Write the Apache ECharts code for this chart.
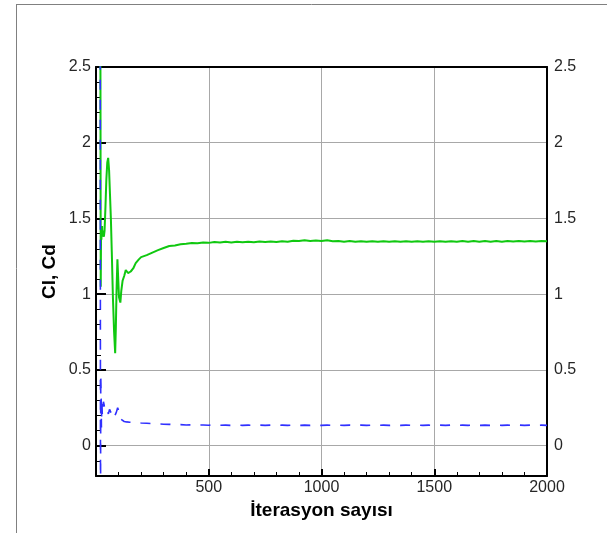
<!DOCTYPE html>
<html>
<head>
<meta charset="utf-8">
<title>Cl, Cd</title>
<script src="https://cdn.jsdelivr.net/npm/echarts@6/dist/echarts.min.js"></script>
<style>
  html, body { margin: 0; padding: 0; background: #fff; }
  #chart { width: 607px; height: 533px; }
</style>
</head>
<body>
<div id="chart"></div>
<script>
// Lift coefficient history (iteration, Cl)
const clIter = [
  19, 20, 21, 22, 23, 24, 25, 26, 27, 28, 30, 32, 35, 38, 42, 46, 50, 54, 58, 62, 66, 70, 75, 80, 85,
  88, 91, 95, 98, 102, 108, 112, 118, 125, 132, 142, 154, 165, 176, 190, 200,
  225, 250, 275, 300, 325, 350, 375, 400, 425, 450, 475, 500, 525, 550, 575, 600, 625, 650, 675, 700,
  725, 750, 775, 800, 825, 850, 875, 900, 925, 950, 975, 1000, 1025, 1050, 1075, 1100, 1125, 1150,
  1175, 1200, 1225, 1250, 1275, 1300, 1325, 1350, 1375, 1400, 1425, 1450, 1475, 1500, 1525, 1550,
  1575, 1600, 1625, 1650, 1675, 1700, 1725, 1750, 1775, 1800, 1825, 1850, 1875, 1900, 1925, 1950,
  1975, 2000
];
const clValue = [
  3.20, 2.20, 1.05, 1.30, 1.45, 1.36, 1.44, 1.38, 1.45, 1.40, 1.42, 1.40, 1.38, 1.42, 1.58, 1.76, 1.87, 1.90, 1.82, 1.66, 1.50, 1.28, 0.98, 0.76, 0.61,
  0.78, 1.02, 1.23, 1.12, 0.98, 0.945, 1.02, 1.09, 1.12, 1.16, 1.14, 1.15, 1.17, 1.205, 1.23, 1.245,
  1.258, 1.275, 1.291, 1.305, 1.318, 1.322, 1.330, 1.333, 1.338, 1.336, 1.341, 1.339, 1.344, 1.341, 1.346, 1.342, 1.347, 1.343, 1.347, 1.343,
  1.348, 1.344, 1.348, 1.345, 1.350, 1.347, 1.353, 1.351, 1.356, 1.352, 1.355, 1.351, 1.356, 1.350, 1.352, 1.347, 1.351, 1.346,
  1.350, 1.346, 1.350, 1.346, 1.350, 1.346, 1.350, 1.346, 1.350, 1.346, 1.350, 1.346, 1.350, 1.346, 1.350, 1.346,
  1.350, 1.347, 1.351, 1.347, 1.351, 1.347, 1.351, 1.347, 1.351, 1.347, 1.352, 1.348, 1.352, 1.348, 1.352, 1.348,
  1.352, 1.349
];

// Drag coefficient history (iteration, Cd)
const cdIter = [
  18, 19, 20, 21, 22, 23, 24, 25, 26, 28, 30, 33, 36, 40, 45, 50, 55, 60, 66, 72, 78, 85, 90, 96, 102,
  106, 110, 117, 125, 135, 150, 165, 184, 200,
  225, 250, 275, 300, 325, 350, 375, 400, 425, 450, 475, 500, 525, 550, 575, 600, 625, 650, 675, 700,
  725, 750, 775, 800, 825, 850, 875, 900, 925, 950, 975, 1000, 1025, 1050, 1075, 1100, 1125, 1150,
  1175, 1200, 1225, 1250, 1275, 1300, 1325, 1350, 1375, 1400, 1425, 1450, 1475, 1500, 1525, 1550,
  1575, 1600, 1625, 1650, 1675, 1700, 1725, 1750, 1775, 1800, 1825, 1850, 1875, 1900, 1925, 1950,
  1975, 2000
];
const cdValue = [
  4.00, 2.00, -0.60, 0.46, 0.40, 0.30, 0.12, 0.22, 0.30, 0.20, 0.26, 0.29, 0.27, 0.22, 0.21, 0.23, 0.21, 0.24, 0.22, 0.20, 0.18, 0.19, 0.22, 0.25, 0.26,
  0.21, 0.175, 0.165, 0.160, 0.157, 0.155, 0.153, 0.152, 0.150,
  0.148, 0.146, 0.144, 0.142, 0.141, 0.139, 0.139, 0.137, 0.138, 0.136, 0.137, 0.135, 0.137, 0.135, 0.136, 0.134, 0.136, 0.134, 0.136, 0.134,
  0.136, 0.134, 0.136, 0.134, 0.136, 0.134, 0.136, 0.134, 0.136, 0.134, 0.136, 0.134, 0.136, 0.134, 0.136, 0.134, 0.136, 0.134,
  0.136, 0.134, 0.136, 0.134, 0.136, 0.134, 0.136, 0.134, 0.136, 0.134, 0.136, 0.134, 0.136, 0.134, 0.136, 0.134,
  0.136, 0.134, 0.136, 0.134, 0.136, 0.134, 0.136, 0.134, 0.136, 0.134, 0.136, 0.134, 0.136, 0.134, 0.136, 0.134,
  0.136, 0.134
];

const FONT = '"Liberation Sans", Arial, sans-serif';
const LABEL_COLOR = '#262626';
const plain = v => String(v);

const chart = echarts.init(document.getElementById('chart'), null, { renderer: 'canvas' });

chart.setOption({
  animation: false,
  backgroundColor: '#fff',
  textStyle: { fontFamily: FONT },
  graphic: [
    // outer frame (top and left edges)
    { type: 'line', shape: { x1: 16, y1: 4.5, x2: 607, y2: 4.5 }, style: { stroke: '#808080', lineWidth: 1 } },
    { type: 'line', shape: { x1: 16.5, y1: 4, x2: 16.5, y2: 533 }, style: { stroke: '#808080', lineWidth: 1 } }
  ],
  grid: { left: 96, right: 60, top: 67, bottom: 57, containLabel: false },
  xAxis: [
    {
      type: 'value', min: 0, max: 2000, interval: 500, position: 'bottom',
      axisLine: { onZero: false, lineStyle: { color: '#000', width: 2 } },
      axisTick: { inside: true, length: 7, lineStyle: { color: '#000', width: 2 } },
      minorTick: { show: true, splitNumber: 5, length: 4, lineStyle: { color: '#000', width: 1 } },
      axisLabel: { showMinLabel: false, fontSize: 16, color: LABEL_COLOR, margin: 4, fontFamily: FONT, formatter: plain },
      splitLine: { show: true, lineStyle: { color: '#a8a8a8', width: 1 } },
      name: 'İterasyon sayısı', nameLocation: 'middle', nameGap: 15,
      nameTextStyle: { fontSize: 19, fontWeight: 'bold', color: '#000', fontFamily: FONT }
    },
    {
      type: 'value', min: 0, max: 2000, position: 'top',
      axisLine: { onZero: false, lineStyle: { color: '#000', width: 2 } },
      axisTick: { show: false }, axisLabel: { show: false }, splitLine: { show: false }
    }
  ],
  yAxis: [
    {
      type: 'value', min: -0.2, max: 2.5, splitNumber: 5, position: 'left',
      axisLine: { onZero: false, lineStyle: { color: '#000', width: 2 } },
      axisTick: { inside: true, length: 10, lineStyle: { color: '#000', width: 2 } },
      axisLabel: { showMinLabel: false, fontSize: 16, color: LABEL_COLOR, margin: 5, fontFamily: FONT, formatter: plain },
      splitLine: { show: true, lineStyle: { color: '#a8a8a8', width: 1 } },
      name: 'Cl, Cd', nameLocation: 'middle', nameGap: 37, nameRotate: 90, nameMoveOverlap: false,
      nameTextStyle: { fontSize: 19, fontWeight: 'bold', color: '#000', fontFamily: FONT }
    },
    {
      // minor ticks every 0.1 on the left axis
      type: 'value', min: -0.2, max: 2.5, interval: 0.1, position: 'left',
      axisLine: { show: false },
      axisTick: { inside: true, length: 5, lineStyle: { color: '#000', width: 1 } },
      axisLabel: { show: false }, splitLine: { show: false }
    },
    {
      type: 'value', min: -0.2, max: 2.5, splitNumber: 5, position: 'right',
      axisLine: { onZero: false, lineStyle: { color: '#000', width: 2 } },
      axisTick: { show: false },
      axisLabel: { showMinLabel: false, fontSize: 16, color: LABEL_COLOR, margin: 7, fontFamily: FONT, formatter: plain },
      splitLine: { show: false }
    }
  ],
  series: [
    {
      name: 'Cl', type: 'line', xAxisIndex: 0, yAxisIndex: 0,
      data: clIter.map((it, i) => [it, clValue[i]]),
      symbol: 'none', clip: true,
      lineStyle: { color: '#10c810', width: 2 }
    },
    {
      name: 'Cd', type: 'line', xAxisIndex: 0, yAxisIndex: 0,
      data: cdIter.map((it, i) => [it, cdValue[i]]),
      symbol: 'none', clip: true,
      lineStyle: { color: '#3030ff', width: 1.6, type: [10, 10] }
    }
  ]
});
</script>
</body>
</html>
